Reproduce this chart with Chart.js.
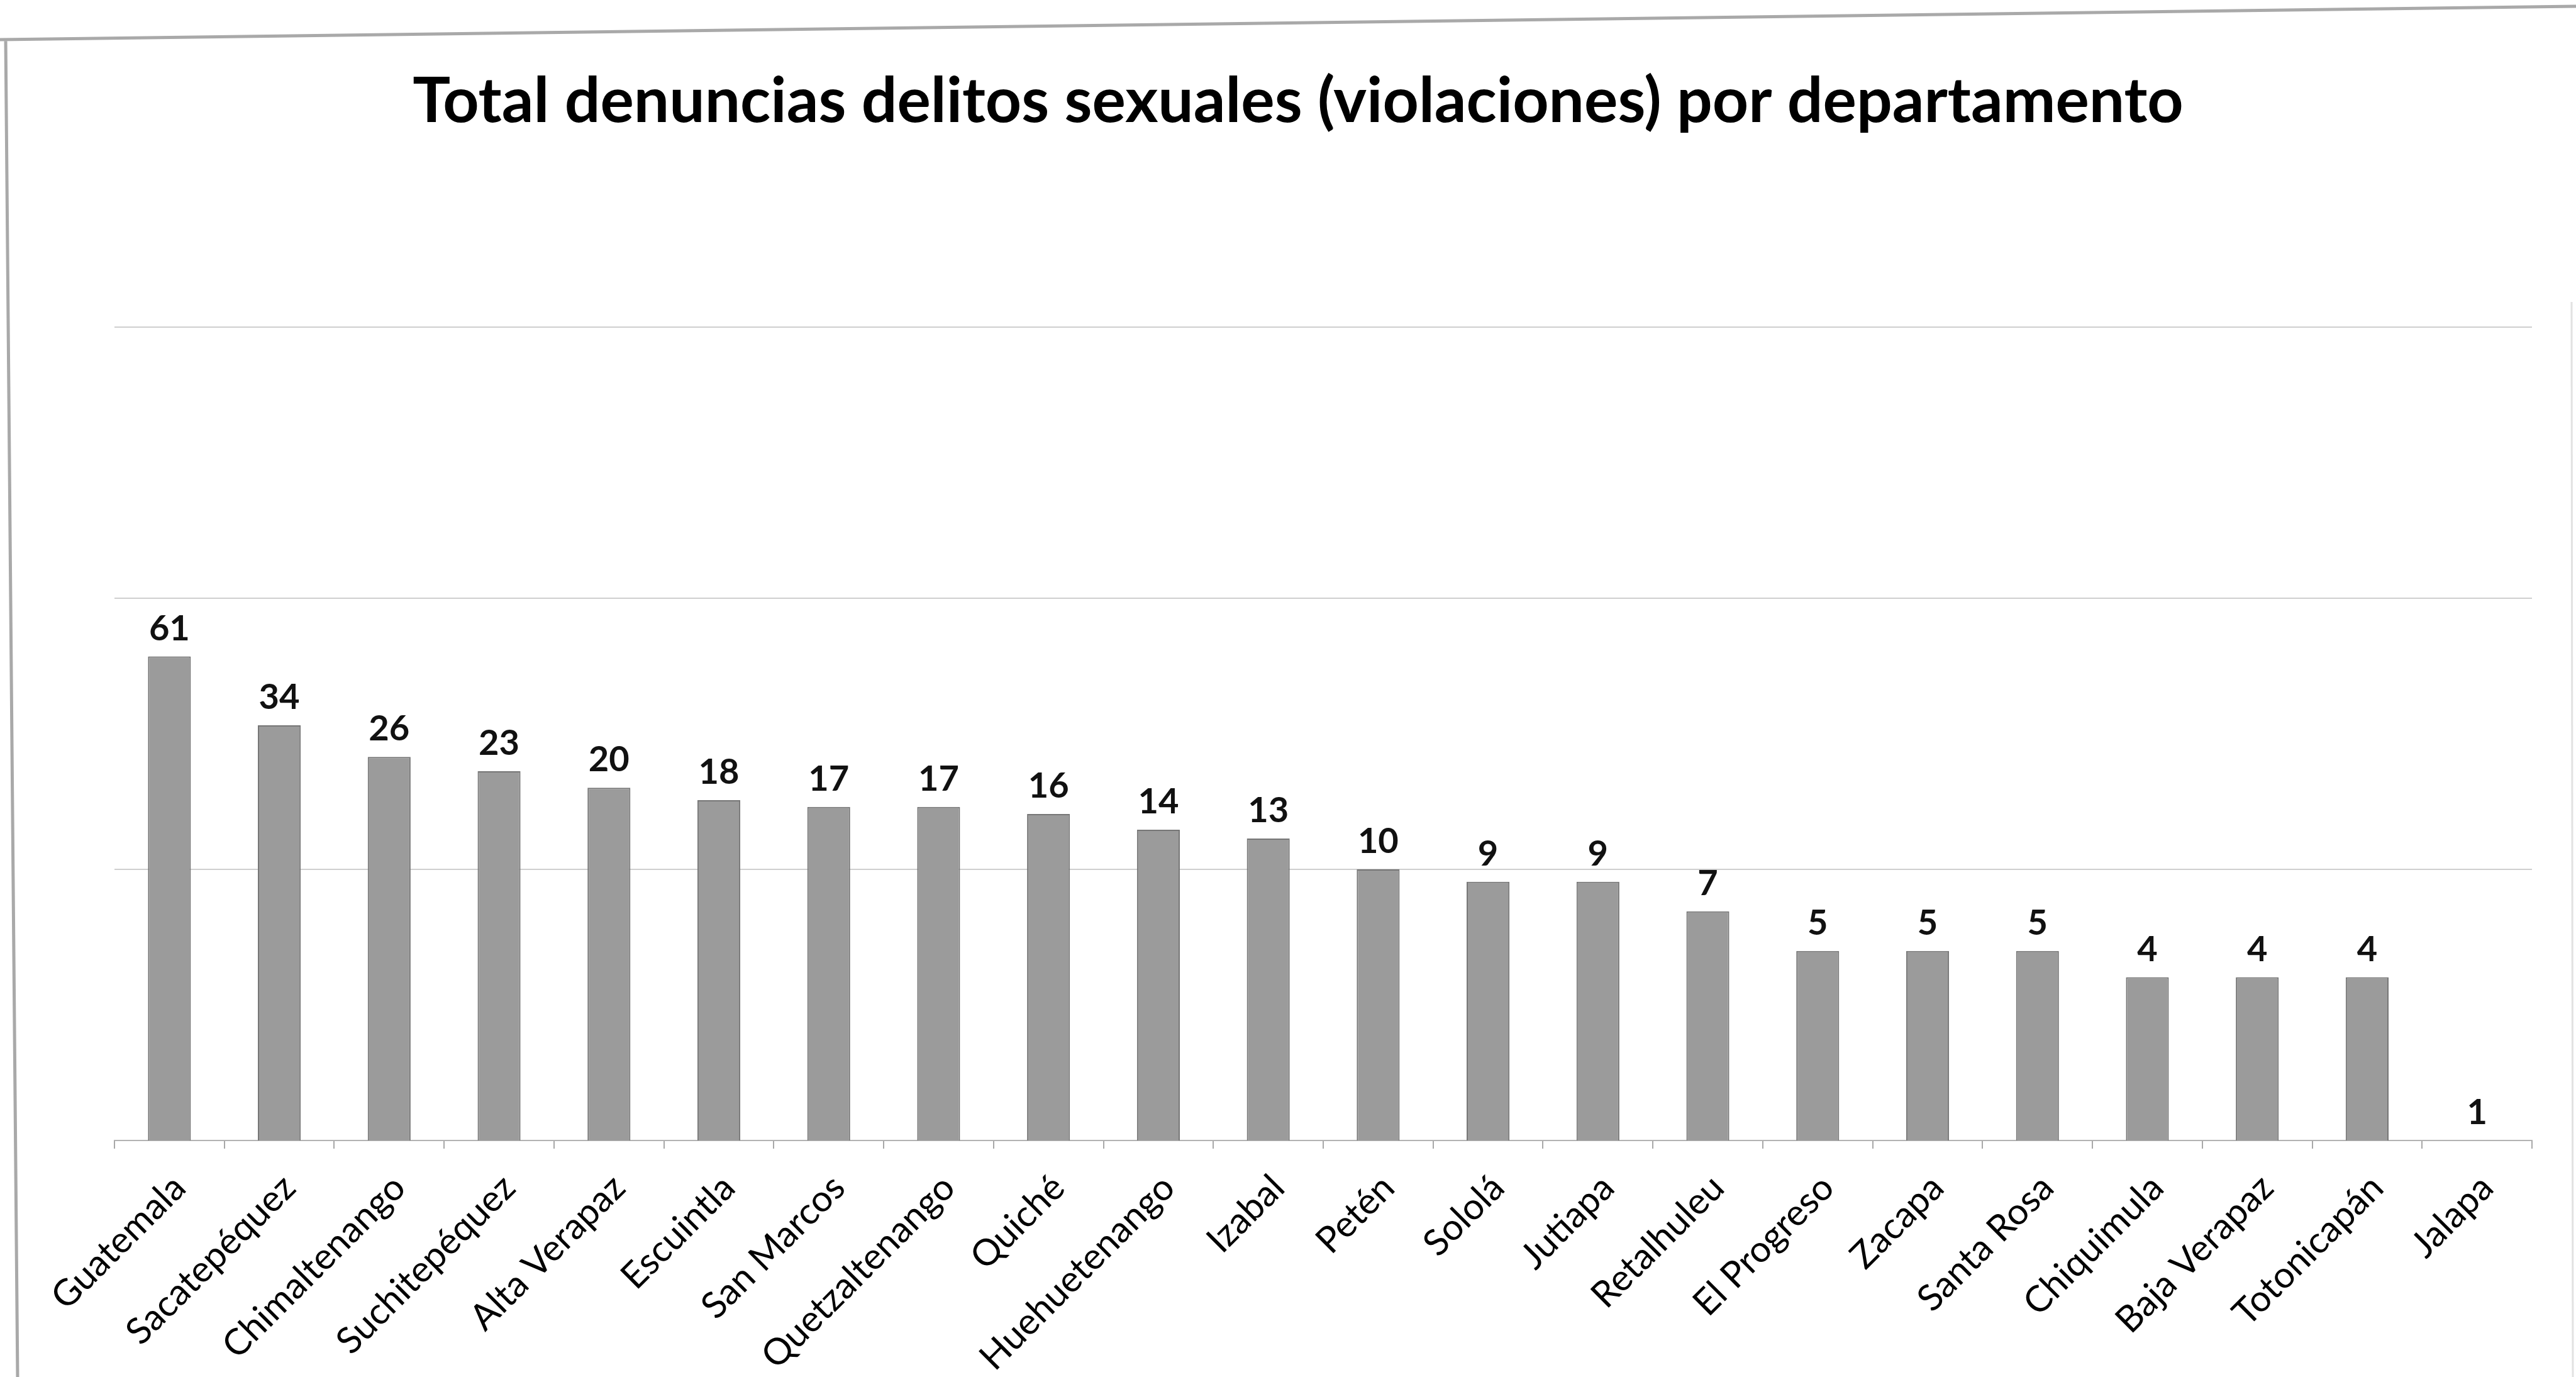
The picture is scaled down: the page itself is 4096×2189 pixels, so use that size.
<!DOCTYPE html>
<html>
<head>
<meta charset="utf-8">
<script src="https://cdn.jsdelivr.net/npm/chart.js@4.4.0/dist/chart.umd.min.js"></script>
<style>
  html, body { margin: 0; padding: 0; background: #ffffff; }
  #wrap { width: 4096px; height: 2189px; position: relative; }
</style>
</head>
<body>
<div id="wrap"><canvas id="c" width="4096" height="2189"></canvas></div>
<script>
// Denuncias por departamento
const departamentos = [
  'Guatemala', 'Sacatepéquez', 'Chimaltenango', 'Suchitepéquez', 'Alta Verapaz',
  'Escuintla', 'San Marcos', 'Quetzaltenango', 'Quiché', 'Huehuetenango',
  'Izabal', 'Petén', 'Sololá', 'Jutiapa', 'Retalhuleu', 'El Progreso',
  'Zacapa', 'Santa Rosa', 'Chiquimula', 'Baja Verapaz', 'Totonicapán', 'Jalapa'
];
const denuncias = [61, 34, 26, 23, 20, 18, 17, 17, 16, 14, 13, 10, 9, 9, 7, 5, 5, 5, 4, 4, 4, 1];
// Líneas de división del eje logarítmico
const divisiones = [1, 10, 100, 1000];

const titulo = 'Total denuncias delitos sexuales (violaciones) por departamento';

// Marco del gráfico
const marco = {
  id: 'marco',
  beforeDraw(chart) {
    const ctx = chart.ctx;
    ctx.save();
    ctx.fillStyle = '#ffffff';
    ctx.fillRect(0, 0, chart.width, chart.height);
    ctx.strokeStyle = '#a9a9a9';
    ctx.lineWidth = 5;
    ctx.beginPath();
    ctx.moveTo(0, 63);
    ctx.lineTo(4096, 10);
    ctx.moveTo(9, 62);
    ctx.lineTo(28, 2189);
    ctx.stroke();
    ctx.strokeStyle = '#e2e2e2';
    ctx.lineWidth = 3;
    ctx.beginPath();
    ctx.moveTo(4089, 480);
    ctx.lineTo(4091, 2189);
    ctx.stroke();
    ctx.restore();
  }
};

// Etiquetas de valor sobre cada barra
const etiquetas = {
  id: 'etiquetas',
  afterDatasetsDraw(chart) {
    const ctx = chart.ctx;
    const meta = chart.getDatasetMeta(0);
    ctx.save();
    ctx.font = 'bold 56px Lato, "Noto Sans", sans-serif';
    ctx.fillStyle = '#111111';
    ctx.textAlign = 'center';
    ctx.textBaseline = 'alphabetic';
    meta.data.forEach((bar, i) => {
      ctx.fillText(String(denuncias[i]), bar.x, bar.y - 26);
    });
    ctx.restore();
  }
};

new Chart(document.getElementById('c'), {
  type: 'bar',
  data: {
    labels: departamentos,
    datasets: [{
      data: denuncias,
      backgroundColor: '#9b9b9b',
      borderColor: '#767676',
      borderWidth: 2,
      barPercentage: 0.39,
      categoryPercentage: 1.0
    }]
  },
  options: {
    responsive: false,
    animation: false,
    devicePixelRatio: 1,
    layout: { padding: { left: 102, right: 70, top: 0, bottom: 0 } },
    plugins: {
      legend: { display: false },
      tooltip: { enabled: false },
      title: {
        display: true,
        text: titulo,
        color: '#000000',
        font: { family: 'Lato, "Noto Sans", sans-serif', size: 100, weight: 'bold' },
        padding: { top: 102, bottom: 298 }
      }
    },
    scales: {
      x: {
        offset: true,
        grid: {
          display: true,
          drawOnChartArea: false,
          offset: true,
          tickLength: 13,
          color: '#a8a8a8',
          lineWidth: 2
        },
        border: { display: true, color: '#b3b3b3', width: 2 },
        ticks: {
          autoSkip: false,
          minRotation: 45,
          maxRotation: 45,
          padding: 28,
          labelOffset: 16,
          color: '#000000',
          font: { family: 'Lato, "Noto Sans", sans-serif', size: 58 }
        },
        afterFit(scale) { scale.height = 376; }
      },
      y: {
        type: 'logarithmic',
        min: 1,
        max: 1000,
        border: { display: false },
        grid: { color: '#cfcfcf', lineWidth: 2, drawTicks: false },
        ticks: { display: false },
        afterBuildTicks(scale) { scale.ticks = divisiones.map(v => ({ value: v })); },
        afterFit(scale) { scale.width = 80; }
      }
    }
  },
  plugins: [marco, etiquetas]
});
</script>
</body>
</html>
